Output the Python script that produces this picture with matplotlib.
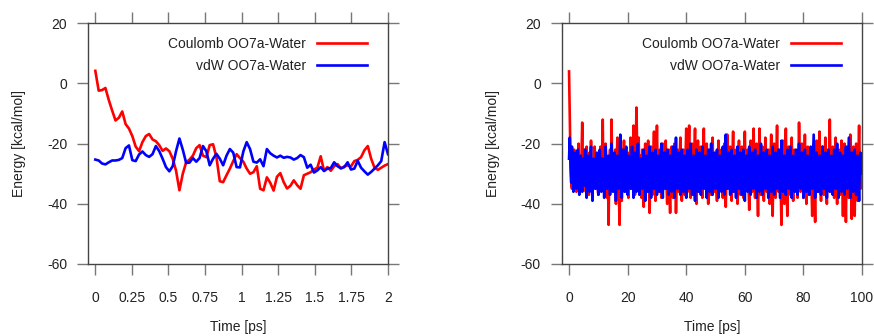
import numpy as np
import matplotlib
matplotlib.use("Agg")
import matplotlib.pyplot as plt

plt.rcParams['font.family'] = ['Liberation Sans', 'DejaVu Sans']
plt.rcParams['font.size'] = 10
plt.rcParams['axes.unicode_minus'] = False

# first 2 ps of the run (short window)
coulomb_short = [
    4.2, -2.4, -2.2, -1.5, -5.5, -9.0, -12.3, -11.4, -9.3, -13.5,
    -15.0, -17.5, -21.0, -22.5, -19.5, -17.5, -16.8, -18.6, -19.2, -20.5,
    -22.4, -21.6, -22.5, -25.0, -29.0, -35.5, -30.0, -26.2, -25.3, -24.0,
    -21.5, -20.5, -24.0, -24.5, -20.5, -20.2, -24.5, -32.5, -32.8, -30.5,
    -28.3, -25.8, -23.5, -24.8, -26.0, -28.3, -30.0, -29.5, -27.5, -35.0,
    -35.5, -31.2, -33.0, -35.6, -31.0, -29.8, -32.8, -34.9, -34.0, -32.2,
    -33.8, -35.0, -30.5, -30.0, -29.5, -28.6, -28.0, -24.2, -29.0, -27.8,
    -29.0, -27.5, -26.8, -28.2, -27.6, -27.2, -27.6, -25.8, -25.4, -24.5,
    -22.2, -20.8, -25.0, -28.0, -28.7, -28.0, -27.3, -26.8,
]
vdw_short = [
    -25.3, -25.6, -26.6, -26.9, -26.2, -25.6, -25.6, -25.4, -24.8, -21.5,
    -20.6, -25.5, -25.8, -23.6, -22.6, -23.8, -24.4, -23.5, -20.8, -22.5,
    -25.0, -27.8, -29.2, -27.5, -22.5, -18.3, -22.0, -26.4, -26.3, -24.8,
    -26.0, -24.8, -20.8, -22.5, -27.2, -25.0, -23.4, -25.0, -27.2, -24.0,
    -21.8, -23.0, -27.8, -27.9, -22.6, -19.5, -21.8, -26.0, -26.3, -25.2,
    -27.5, -21.8, -23.2, -24.0, -24.6, -24.0, -24.7, -24.4, -24.6, -25.3,
    -24.8, -23.8, -24.5, -28.0, -27.0, -29.6, -28.9, -27.8, -29.1, -28.3,
    -28.1, -26.2, -27.5, -28.2, -27.8, -26.2, -28.6, -28.3, -25.7, -28.0,
    -29.2, -30.3, -29.4, -28.3, -27.2, -25.8, -19.5, -23.5,
]

# full 100 ps run, every 0.25 ps (one row = 5 ps)
coulomb_long = [
    4, -10, -26, -33, -35, -24, -30, -22, -34, -27, -36, -25, -31, -20, -35, -28, -33, -24, -13, -30,
    -34, -22, -29, -36, -21, -31, -25, -37, -23, -33, -19, -30, -38, -26, -32, -21, -35, -27, -24, -34,
    -37, -23, -30, -21, -35, -28, -12, -33, -25, -37, -20, -31, -38, -29, -47, -27, -22, -33, -12, -30,
    -35, -24, -29, -22, -40, -27, -18, -33, -36, -47, -26, -31, -39, -22, -28, -19, -36, -25, -34, -23,
    -31, -38, -23, -29, -18, -35, -27, -33, -14, -30, -37, -24, -8, -22, -32, -18, -28, -37, -24, -38,
    -22, -34, -41, -28, -20, -33, -36, -25, -19, -31, -43, -27, -21, -34, -37, -24, -16, -30, -39, -26,
    -14, -29, -36, -23, -22, -33, -38, -26, -20, -31, -35, -27, -19, -33, -40, -25, -22, -35, -43, -28,
    -21, -31, -38, -26, -20, -29, -43, -33, -22, -30, -36, -24, -18, -32, -39, -27, -22, -34, -37, -25,
    -15, -31, -36, -24, -14, -33, -38, -27, -20, -31, -37, -25, -15, -33, -40, -28, -19, -32, -36, -24,
    -21, -33, -38, -26, -15, -30, -35, -27, -20, -32, -40, -25, -22, -31, -37, -26, -18, -30, -36, -25,
    -23, -34, -39, -27, -19, -31, -34, -24, -22, -33, -38, -26, -20, -32, -41, -28, -17, -30, -35, -26,
    -21, -33, -39, -25, -16, -29, -36, -27, -22, -34, -40, -26, -19, -31, -37, -24, -21, -33, -38, -27,
    -16, -30, -35, -25, -22, -34, -42, -28, -19, -32, -36, -24, -15, -31, -38, -26, -20, -34, -44, -29,
    -15, -30, -37, -25, -21, -33, -39, -27, -18, -31, -36, -24, -22, -34, -40, -26, -17, -32, -44, -28,
    -20, -31, -38, -25, -14, -30, -36, -26, -22, -34, -47, -28, -19, -33, -40, -26, -15, -31, -44, -27,
    -21, -32, -37, -25, -18, -31, -39, -27, -22, -33, -36, -26, -38, -29, -13, -24, -36, -30, -20, -27,
    -38, -28, -17, -31, -40, -26, -21, -33, -37, -25, -22, -34, -44, -27, -20, -35, -46, -28, -19, -31,
    -36, -25, -16, -30, -39, -26, -21, -33, -37, -24, -18, -32, -40, -27, -22, -31, -12, -29, -36, -26,
    -21, -32, -38, -25, -18, -31, -40, -27, -22, -33, -37, -24, -19, -32, -44, -28, -20, -34, -46, -27,
    -21, -31, -38, -25, -17, -33, -45, -28, -21, -32, -44, -26, -20, -30, -39, -25, -14, -29, -35, -27,
    -24,
]
vdw_long = [
    -25, -18, -27, -33, -21, -29, -36, -26, -23, -31, -35, -24, -22, -30, -37, -27, -24, -32, -36, -25,
    -34, -28, -22, -31, -38, -27, -24, -30, -36, -25, -21, -32, -39, -28, -25, -31, -35, -26, -23, -33,
    -37, -27, -22, -30, -36, -25, -25, -32, -38, -28, -21, -29, -35, -26, -24, -31, -37, -27, -20, -30,
    -36, -26, -23, -31, -39, -28, -24, -30, -35, -26, -17, -29, -38, -27, -22, -31, -36, -25, -21, -30,
    -37, -28, -24, -31, -35, -26, -21, -30, -38, -27, -23, -32, -36, -25, -20, -29, -37, -28, -25, -31,
    -35, -26, -22, -30, -39, -28, -24, -31, -36, -25, -21, -30, -38, -27, -23, -31, -35, -26, -22, -30,
    -37, -27, -24, -31, -36, -25, -20, -29, -38, -28, -23, -31, -35, -26, -22, -30, -37, -27, -24, -32,
    -36, -26, -21, -30, -38, -27, -18, -29, -35, -26, -23, -31, -37, -28, -22, -30, -36, -25, -24, -31,
    -38, -27, -22, -30, -35, -26, -20, -29, -37, -28, -24, -31, -39, -27, -22, -30, -36, -26, -23, -31,
    -37, -27, -21, -30, -35, -26, -24, -31, -38, -28, -22, -30, -36, -26, -20, -29, -37, -27, -23, -31,
    -35, -26, -22, -30, -38, -27, -24, -31, -36, -25, -21, -30, -37, -27, -17, -28, -35, -26, -23, -31,
    -37, -27, -22, -30, -36, -26, -24, -31, -38, -28, -21, -30, -35, -26, -23, -31, -37, -27, -22, -30,
    -39, -28, -24, -31, -36, -26, -21, -30, -37, -27, -23, -31, -35, -26, -22, -30, -38, -28, -24, -31,
    -36, -26, -20, -29, -37, -27, -23, -31, -35, -26, -22, -30, -38, -28, -24, -31, -36, -26, -21, -30,
    -37, -27, -23, -31, -35, -26, -22, -30, -38, -28, -19, -29, -36, -26, -24, -31, -37, -27, -22, -30,
    -35, -26, -21, -30, -38, -28, -24, -31, -36, -26, -22, -30, -37, -27, -20, -29, -35, -26, -23, -31,
    -38, -27, -22, -30, -36, -26, -24, -31, -37, -27, -21, -30, -35, -26, -17, -28, -38, -28, -23, -31,
    -36, -26, -24, -31, -37, -27, -21, -30, -35, -26, -23, -31, -38, -28, -22, -30, -36, -26, -24, -31,
    -37, -27, -22, -30, -35, -26, -20, -29, -38, -28, -23, -31, -36, -26, -24, -31, -37, -27, -21, -30,
    -35, -26, -18, -28, -38, -28, -23, -31, -36, -26, -22, -30, -37, -27, -24, -31, -39, -28, -23, -30,
    -30,
]

short_ticks = [0, 0.25, 0.5, 0.75, 1, 1.25, 1.5, 1.75, 2]
short_ticklabels = ['0', '0.25', '0.5', '0.75', '1', '1.25', '1.5', '1.75', '2']
long_ticks = [0, 20, 40, 60, 80, 100]
energy_ticks = [-60, -40, -20, 0, 20]

t_short = np.linspace(0, 2, len(coulomb_short))
t_long = np.linspace(0, 100, len(coulomb_long))

fig = plt.figure(figsize=(8.74, 3.36), dpi=100)
ax1 = fig.add_axes([0.1007, 0.2143, 0.3432, 0.7164])
ax2 = fig.add_axes([0.6427, 0.2143, 0.3436, 0.7164])

panels = [
    (ax1, t_short, coulomb_short, vdw_short, (-0.05, 2), short_ticks, short_ticklabels),
    (ax2, t_long, coulomb_long, vdw_long, (-2.5, 100), long_ticks, [str(v) for v in long_ticks]),
]

for ax, t, coul, vdw, xlim, xt, xtl in panels:
    ax.plot(t, coul, color='#ff0000', lw=1.9, label='Coulomb OO7a-Water')
    ax.plot(t, vdw, color='#0000ff', lw=1.9, label='vdW OO7a-Water')
    ax.set_xlim(*xlim)
    ax.set_ylim(-60, 20)
    ax.set_xticks(xt)
    ax.set_xticklabels(xtl)
    ax.set_yticks(energy_ticks)
    ax.tick_params(direction='out', length=8, width=1, color='#777777',
                   labelcolor='#222222', top=True, right=True)
    ax.tick_params(axis='x', pad=11.5)
    ax.tick_params(axis='y', pad=7)
    for s in ax.spines.values():
        s.set_color('#444444')
        s.set_linewidth(1.0)
    ax.set_xlabel('Time [ps]', color='#222222', labelpad=11)
    ax.set_ylabel('Energy [kcal/mol]', color='#222222', labelpad=15)
    leg = ax.legend(loc='upper right', bbox_to_anchor=(0.93, 0.943),
                    frameon=False, markerfirst=False, borderpad=0,
                    borderaxespad=0, handlelength=3.6, handletextpad=0.8,
                    labelspacing=0.6)
    for txt in leg.get_texts():
        txt.set_color('#222222')

fig.savefig('out.png', dpi=100)
